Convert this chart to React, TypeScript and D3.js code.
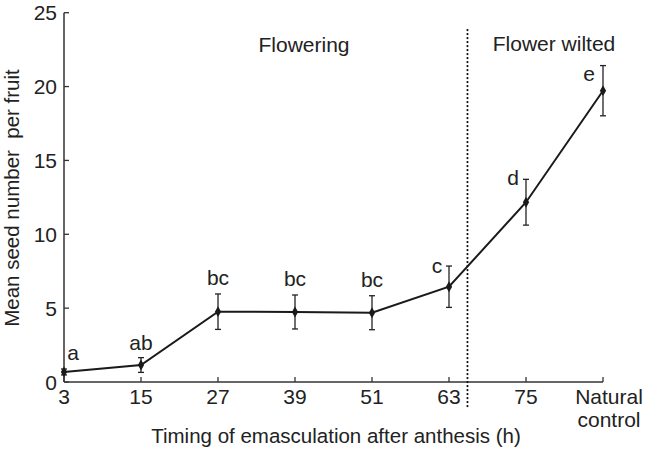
import React from "react";
import * as d3 from "d3";

const categories = ["3", "15", "27", "39", "51", "63", "75", "Natural control"];
const means = [0.68, 1.15, 4.76, 4.74, 4.69, 6.45, 12.17, 19.72];
const errors = [0.2, 0.5, 1.2, 1.15, 1.15, 1.4, 1.55, 1.7];
const letters = ["a", "ab", "bc", "bc", "bc", "c", "d", "e"];
const yTicks = [0, 5, 10, 15, 20, 25];
const phases = ["Flowering", "Flower wilted"];

const W = 647, H = 452;
const left = 64, right = 603, top = 12.7, bottom = 382;
const font = "'Liberation Sans', Arial, Helvetica, sans-serif";
const ink = "#222";
const fs = 21;

export default function App() {
  const x = d3.scalePoint<string>().domain(categories).range([left, right]);
  const y = d3.scaleLinear().domain([0, 25]).range([bottom, top]);
  const step = x.step();
  const dividerX = (x("63") as number) + step * 0.24;
  const line = d3
    .line<number>()
    .x((_, i) => x(categories[i]) as number)
    .y((d) => y(d));
  const diamond = d3.symbol(d3.symbolDiamond, 34)() as string;
  const letterDx = [9, 0, 0, 0, 0, -12, -13, -14];
  const letterDy = [-9, -8, -9, -9, -9, 7, 6, 15];

  return (
    <svg width={W} height={H} style={{ position: "absolute", left: 0, top: 0 }} fontFamily={font}>
      <rect width={W} height={H} fill="#fff" />
      {/* axes */}
      <line x1={left} x2={left} y1={top} y2={bottom} stroke="#333" strokeWidth={1.5} />
      <line x1={left} x2={right} y1={bottom} y2={bottom} stroke="#333" strokeWidth={1.5} />
      {yTicks.map((t) => (
        <g key={"y" + t}>
          <line x1={left} x2={left + 5} y1={y(t)} y2={y(t)} stroke="#333" strokeWidth={1.3} />
          <text x={left - 7} y={y(t)} dy="0.36em" textAnchor="end" fontSize={fs} fill={ink}>
            {t}
          </text>
        </g>
      ))}
      {categories.map((c) => {
        const cx = x(c) as number;
        const parts = c.split(" ");
        return (
          <g key={"x" + c}>
            <line x1={cx} x2={cx} y1={bottom} y2={bottom - 5} stroke="#333" strokeWidth={1.3} />
            {parts.map((p, i) => (
              <text key={p} x={cx + (parts.length > 1 ? 6 : 0)} y={404 + i * 23} textAnchor="middle" fontSize={fs} fill={ink}>
                {p}
              </text>
            ))}
          </g>
        );
      })}
      {/* divider */}
      <line
        x1={dividerX}
        x2={dividerX}
        y1={30}
        y2={408}
        stroke="#111"
        strokeWidth={2.2}
        strokeDasharray="0.1,3.9"
        strokeLinecap="round"
      />
      <text x={304} y={52} textAnchor="middle" fontSize={fs} fill={ink}>
        {phases[0]}
      </text>
      <text x={554} y={51} textAnchor="middle" fontSize={fs} fill={ink}>
        {phases[1]}
      </text>
      {/* error bars */}
      {means.map((m, i) => {
        const cx = x(categories[i]) as number;
        const e = errors[i];
        return (
          <g key={"e" + i} stroke="#222" strokeWidth={1.3}>
            <line x1={cx} x2={cx} y1={y(m - e)} y2={y(m + e)} />
            <line x1={cx - 3} x2={cx + 3} y1={y(m - e)} y2={y(m - e)} />
            <line x1={cx - 3} x2={cx + 3} y1={y(m + e)} y2={y(m + e)} />
          </g>
        );
      })}
      <path d={line(means) as string} fill="none" stroke="#1a1a1a" strokeWidth={2} />
      {means.map((m, i) => (
        <path key={"p" + i} d={diamond} transform={`translate(${x(categories[i])},${y(m)})`} fill="#1a1a1a" />
      ))}
      {letters.map((l, i) => {
        const cx = (x(categories[i]) as number) + letterDx[i];
        const ty = y(means[i] + errors[i]) + letterDy[i];
        return (
          <text key={"l" + i} x={cx} y={ty} textAnchor="middle" fontSize={fs} fill={ink}>
            {l}
          </text>
        );
      })}
      {/* axis titles */}
      <text x={336} y={443} textAnchor="middle" fontSize={20.5} fill={ink}>
        Timing of emasculation after anthesis (h)
      </text>
      <text
        transform={`translate(19,198) rotate(-90)`}
        textAnchor="middle"
        fontSize={20.5}
        fill={ink}
        xmlSpace="preserve"
      >
        {"Mean seed number  per fruit"}
      </text>
    </svg>
  );
}
